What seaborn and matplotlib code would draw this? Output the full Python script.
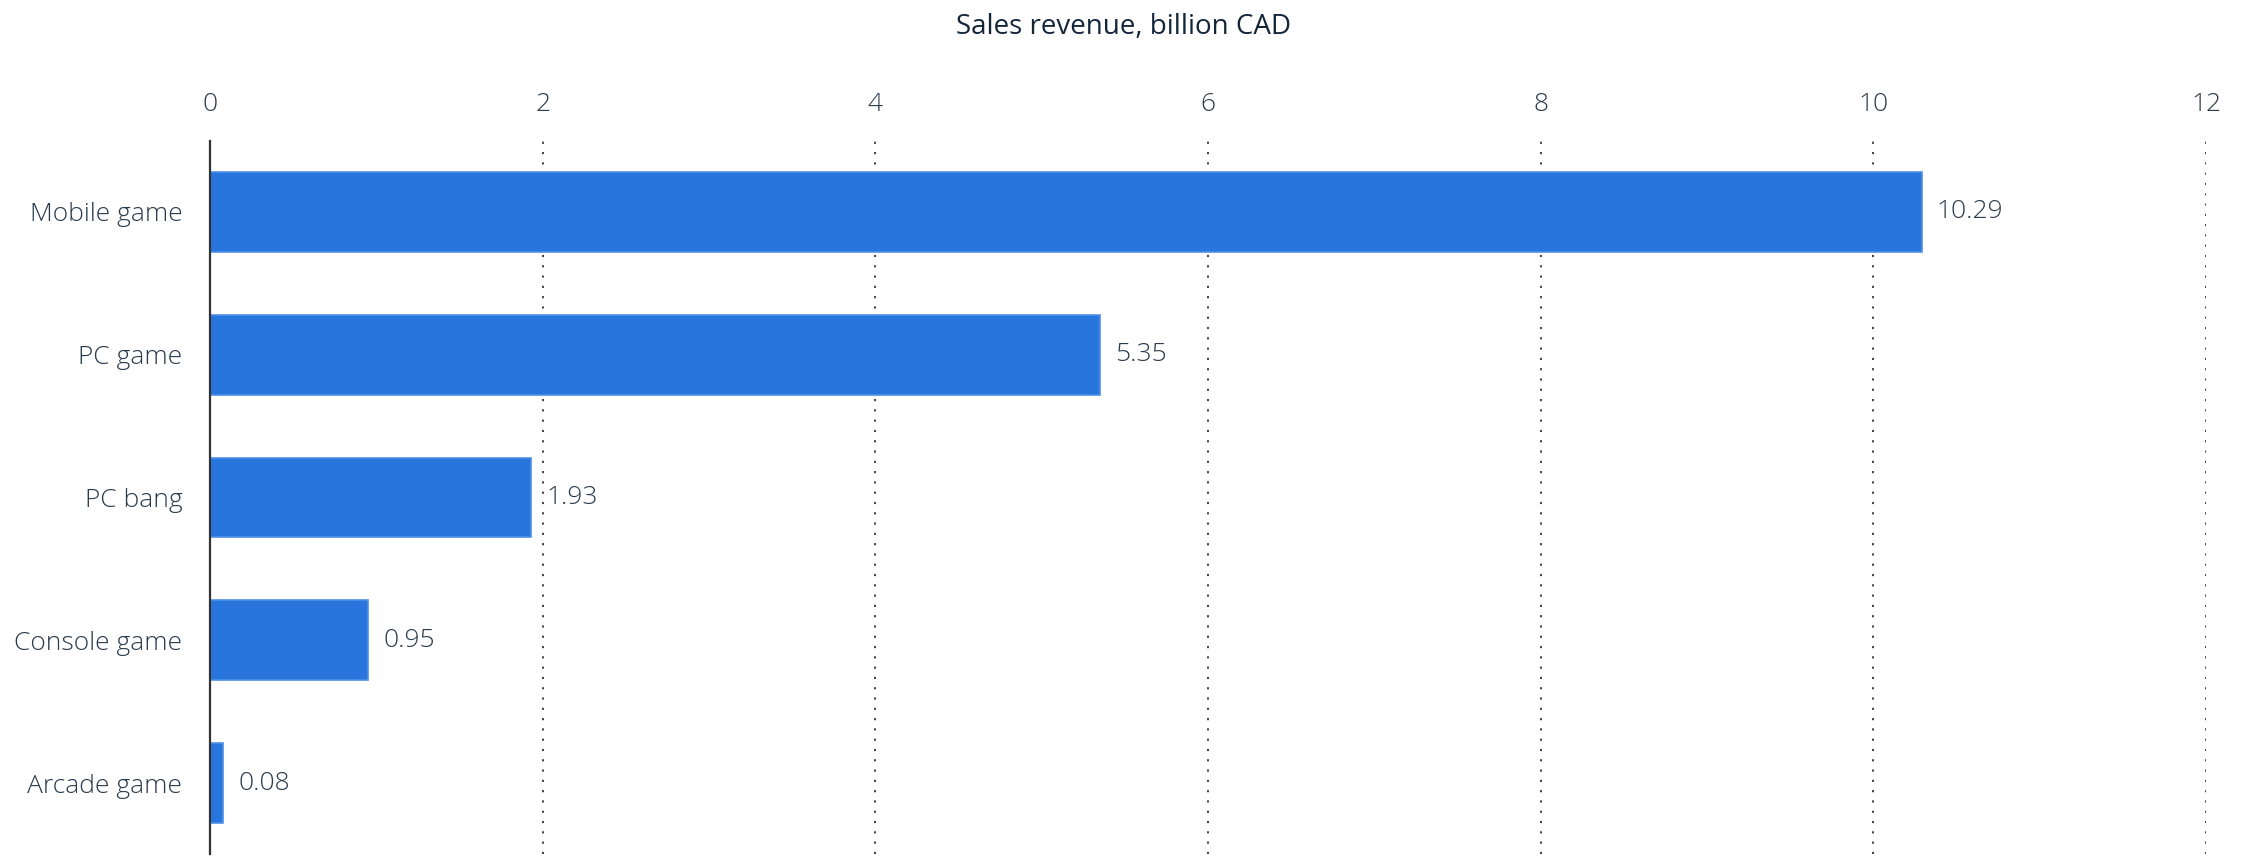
import matplotlib
matplotlib.use("Agg")
import matplotlib.pyplot as plt
import seaborn as sns
import pandas as pd

categories = ["Mobile game", "PC game", "PC bang", "Console game", "Arcade game"]
revenue = [10.29, 5.35, 1.93, 0.95, 0.08]
x_ticks = [0, 2, 4, 6, 8, 10, 12]
axis_title = "Sales revenue, billion CAD"

sns.set_theme(style="white")
plt.rcParams["font.family"] = ["Open Sans", "DejaVu Sans"]

text_color = "#2a3b4d"
bar_color = "#2876dd"

df = pd.DataFrame({"category": categories, "revenue": revenue})

fig = plt.figure(figsize=(22.52, 8.57), dpi=100)
ax = fig.add_axes([0.0933, 0.003, 0.8863, 0.833])

sns.barplot(data=df, x="revenue", y="category", orient="h", color=bar_color,
            saturation=1, width=0.56, edgecolor="#4f90e6", linewidth=1.2,
            ax=ax, zorder=3)

ax.set_xlim(0, 12)
ax.set_ylim(4.5, -0.5)
ax.set_xticks(x_ticks)
ax.set_xticklabels([str(t) for t in x_ticks])
ax.xaxis.tick_top()
ax.tick_params(axis="x", length=0, pad=17, labelsize=19, labelcolor=text_color)
ax.tick_params(axis="y", length=0, pad=20, labelsize=19, labelcolor=text_color)
for lbl in ax.get_xticklabels() + ax.get_yticklabels():
    lbl.set_fontweight("light")
ax.set_xlabel("")
ax.set_ylabel("")

for t in x_ticks[1:]:
    ax.axvline(t, color="#333333", linestyle=(0, (1.2, 4.5)), linewidth=1.3, zorder=1)

for s in ["top", "right", "bottom"]:
    ax.spines[s].set_visible(False)
ax.spines["left"].set_color("#333333")
ax.spines["left"].set_linewidth(1.6)
ax.spines["left"].set_zorder(4)

for i, v in enumerate(revenue):
    ax.text(v + 0.09, i, f"{v:.2f}", va="center", ha="left", fontsize=19,
            color=text_color, fontweight="light")

fig.text(0.4987, 0.968, axis_title, ha="center", va="center", fontsize=20,
         color="#14263a")

fig.savefig("out.png", dpi=100, facecolor="white")
